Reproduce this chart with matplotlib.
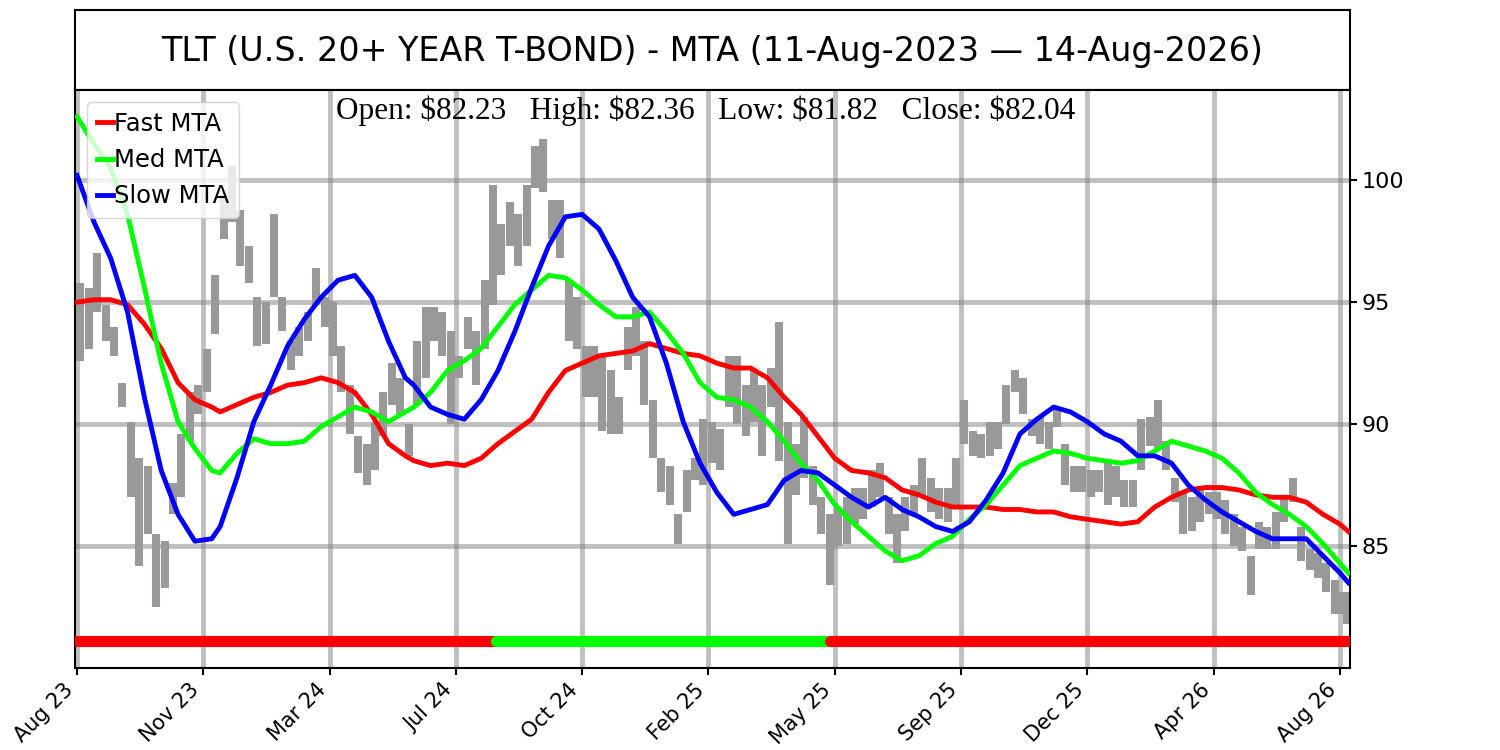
import numpy as np
import matplotlib
matplotlib.use("Agg")
import matplotlib.pyplot as plt

# price bars, one high/low pair per week (5 trading days)
week_high = [95.8, 95.6, 97.0, 94.9, 94.0, 91.7, 90.1, 88.6, 88.3, 85.5,
             85.2, 87.6, 89.6, 91.3, 91.6, 93.1, 96.1, 99.4, 100.6, 98.8,
             97.3, 95.2, 95.0, 98.6, 95.2, 93.4, 94.0, 94.6, 96.4, 95.2,
             95.0, 93.2, 91.6, 89.5, 89.2, 90.1, 91.3, 92.5, 91.9, 90.0,
             93.4, 94.8, 94.8, 94.6, 93.8, 92.8, 94.4, 93.8, 95.9, 99.8,
             98.2, 99.1, 98.6, 99.8, 101.4, 101.7, 99.2, 99.2, 95.9, 95.2,
             93.2, 93.2, 92.8, 92.2, 91.1, 94.0, 94.8, 93.4, 91.0, 88.6,
             88.3, 86.3, 88.1, 88.6, 90.2, 90.1, 89.8, 92.8, 92.8, 91.6,
             92.2, 91.6, 92.3, 94.2, 90.1, 89.2, 90.3, 88.3, 87.0, 86.3,
             86.6, 87.0, 87.4, 87.4, 88.1, 88.4, 87.0, 86.3, 87.0, 87.5,
             88.6, 87.8, 87.4, 87.4, 88.6, 91.0, 89.7, 89.6, 90.1, 90.1,
             91.6, 92.2, 91.9, 90.2, 90.3, 90.1, 90.6, 89.2, 88.3, 88.3,
             88.1, 88.1, 88.4, 88.3, 87.7, 87.7, 90.2, 90.3, 91.0, 89.3,
             87.8, 87.2, 87.0, 87.4, 87.2, 87.2, 86.9, 86.3, 85.8, 84.6,
             86.0, 85.8, 86.4, 87.0, 87.8, 85.8, 84.9, 84.7, 84.3, 83.6,
             83.1, 83.1]
week_low = [92.6, 93.1, 94.6, 93.4, 92.8, 90.7, 87.0, 84.2, 85.5, 82.5,
            83.3, 86.3, 87.0, 89.3, 90.4, 91.3, 93.7, 97.6, 98.3, 96.5,
            95.8, 93.2, 93.3, 95.2, 93.8, 92.2, 92.8, 93.4, 94.9, 94.0,
            92.8, 91.3, 89.6, 88.0, 87.5, 88.1, 89.5, 90.8, 90.4, 88.7,
            90.8, 91.9, 93.4, 92.8, 90.0, 91.9, 93.1, 91.6, 93.1, 94.9,
            96.1, 97.3, 96.5, 97.3, 99.7, 99.5, 97.6, 96.8, 93.4, 93.1,
            91.1, 91.1, 89.7, 89.6, 89.6, 92.2, 92.8, 90.8, 88.6, 87.2,
            86.7, 85.1, 86.4, 87.7, 87.5, 88.4, 88.1, 90.7, 90.0, 89.5,
            90.1, 88.7, 90.7, 88.5, 85.1, 87.1, 87.8, 86.7, 85.5, 83.4,
            85.0, 85.1, 85.9, 86.1, 86.6, 87.0, 85.5, 84.3, 85.6, 86.3,
            87.0, 86.4, 86.1, 86.0, 86.5, 89.2, 88.7, 88.6, 88.7, 89.0,
            90.0, 91.3, 90.4, 89.5, 89.2, 89.0, 89.9, 87.5, 87.2, 87.2,
            87.0, 87.2, 86.7, 87.0, 86.6, 86.6, 88.1, 89.1, 89.0, 88.1,
            86.8, 85.5, 85.6, 86.0, 86.3, 86.1, 85.5, 85.0, 84.8, 83.0,
            84.9, 84.9, 84.9, 86.0, 86.8, 84.4, 84.0, 83.7, 83.1, 82.2,
            82.2, 81.8]

# MTA lines, sampled at these bar numbers
mta_idx = [0, 10, 20, 30, 40, 50, 60, 70, 80, 85,
           95, 105, 115, 125, 135, 145, 155, 165, 175, 185,
           195, 200, 210, 220, 230, 240, 250, 260, 270, 280,
           290, 300, 310, 320, 330, 340, 350, 360, 370, 380,
           390, 400, 410, 420, 430, 440, 450, 460, 470, 480,
           490, 500, 510, 520, 530, 540, 550, 560, 570, 580,
           590, 600, 610, 620, 630, 640, 650, 660, 670, 680,
           690, 700, 710, 720, 730, 740, 750, 755]
fast_mta = [95.0, 95.1, 95.1, 94.9, 94.1, 93.1, 91.7, 91.0, 90.7, 90.5,
            90.8, 91.1, 91.3, 91.6, 91.7, 91.9, 91.7, 91.3, 90.4, 89.2,
            88.7, 88.5, 88.3, 88.4, 88.3, 88.6, 89.2, 89.7, 90.2, 91.3,
            92.2, 92.5, 92.8, 92.9, 93.0, 93.3, 93.1, 92.9, 92.8, 92.5,
            92.3, 92.3, 91.9, 91.1, 90.4, 89.5, 88.6, 88.1, 88.0, 87.8,
            87.3, 87.1, 86.8, 86.6, 86.6, 86.6, 86.5, 86.5, 86.4, 86.4,
            86.2, 86.1, 86.0, 85.9, 86.0, 86.6, 87.0, 87.3, 87.4, 87.4,
            87.3, 87.1, 87.0, 87.0, 86.8, 86.3, 85.9, 85.6]
med_mta = [102.6, 101.5, 100.5, 98.6, 95.6, 92.5, 90.1, 89.0, 88.1, 88.0,
           88.8, 89.4, 89.2, 89.2, 89.3, 89.9, 90.3, 90.7, 90.5, 90.1,
           90.5, 90.7, 91.3, 92.2, 92.6, 93.1, 94.0, 94.9, 95.5, 96.1,
           96.0, 95.5, 94.9, 94.4, 94.4, 94.6, 93.8, 92.9, 91.7, 91.1,
           91.0, 90.7, 90.1, 89.3, 88.4, 87.7, 86.7, 86.0, 85.4, 84.8,
           84.4, 84.6, 85.1, 85.4, 86.1, 86.7, 87.5, 88.3, 88.6, 88.9,
           88.8, 88.6, 88.5, 88.4, 88.5, 88.9, 89.3, 89.1, 88.9, 88.6,
           88.0, 87.2, 86.7, 86.3, 85.8, 85.1, 84.3, 83.9]
slow_mta = [100.2, 98.3, 96.8, 94.6, 91.1, 88.1, 86.3, 85.2, 85.3, 85.8,
            87.8, 90.1, 91.6, 93.2, 94.3, 95.2, 95.9, 96.1, 95.2, 93.4,
            91.9, 91.6, 90.7, 90.4, 90.2, 91.0, 92.2, 93.8, 95.6, 97.3,
            98.5, 98.6, 98.0, 96.7, 95.2, 94.4, 92.5, 90.1, 88.4, 87.2,
            86.3, 86.5, 86.7, 87.7, 88.1, 88.0, 87.5, 87.0, 86.6, 87.0,
            86.5, 86.2, 85.8, 85.6, 86.0, 86.9, 88.0, 89.6, 90.2, 90.7,
            90.5, 90.1, 89.6, 89.3, 88.7, 88.7, 88.4, 87.5, 86.9, 86.4,
            86.0, 85.6, 85.3, 85.3, 85.3, 84.6, 83.9, 83.5]

# trend state strip along the bottom
state_start = [0, 249, 447]
state_end = [249, 447, 755]
state_color = ['red', 'lime', 'red']
state_level = 81.1

tick_labels = ['Aug 23', 'Nov 23', 'Mar 24', 'Jul 24', 'Oct 24', 'Feb 25',
               'May 25', 'Sep 25', 'Dec 25', 'Apr 26', 'Aug 26']
tick_step = 75
n_bars = 756

last_open, last_high, last_low, last_close = 82.23, 82.36, 81.82, 82.04
title = "TLT (U.S. 20+ YEAR T-BOND) - MTA (11-Aug-2023 \u2014 14-Aug-2026)"

week_x = np.clip(np.arange(len(week_high)) * 5 + 2, 0, n_bars - 2)

fig = plt.figure(figsize=(15, 7.5), dpi=100)

# title box
ax_t = fig.add_axes([0.05, 0.88, 0.85, 0.1067])
ax_t.set_xticks([])
ax_t.set_yticks([])
ax_t.text(0.5, 0.48, title, ha='center', va='center', fontsize=24)
for sp in ax_t.spines.values():
    sp.set_linewidth(1.5)

ax = fig.add_axes([0.05, 0.1093, 0.85, 0.7707])
ax.vlines(week_x, week_low, week_high, color='#999999', linewidth=5.8, zorder=2)
ax.plot(mta_idx, fast_mta, color='red', linewidth=3.5, label='Fast MTA', zorder=3)
ax.plot(mta_idx, med_mta, color='lime', linewidth=3.5, label='Med MTA', zorder=3)
ax.plot(mta_idx, slow_mta, color='blue', linewidth=3.5, label='Slow MTA', zorder=3)

for s, e, c in zip(state_start, state_end, state_color):
    ax.plot([s, e], [state_level, state_level], color=c, linewidth=8,
            solid_capstyle='round', zorder=4)

ax.set_xlim(-1.2, n_bars)
ax.set_ylim(80.0, 103.7)
ax.yaxis.tick_right()
ax.set_yticks([85, 90, 95, 100])
ax.set_xticks(np.arange(len(tick_labels)) * tick_step)
ax.set_xticklabels(tick_labels, rotation=45, ha='right')
ax.tick_params(axis='y', labelsize=16, length=5, width=1.5)
ax.tick_params(axis='x', labelsize=15, length=5, width=1.5)
ax.grid(True, color='gray', alpha=0.5, linewidth=3.5)
ax.set_axisbelow(True)
for sp in ax.spines.values():
    sp.set_linewidth(1.5)

ohlc = (f"Open: \\${last_open:.2f}   High: \\${last_high:.2f}   "
        f"Low: \\${last_low:.2f}   Close: \\${last_close:.2f}")
ax.text(0.495, 0.99, ohlc, transform=ax.transAxes, ha='center', va='top',
        fontsize=22.5, family='Liberation Serif', zorder=5)

ax.legend(loc='upper left', fontsize=17.5, handlelength=0.65, handletextpad=0.05,
          borderaxespad=0.5)

fig.savefig('out.png', dpi=100)
